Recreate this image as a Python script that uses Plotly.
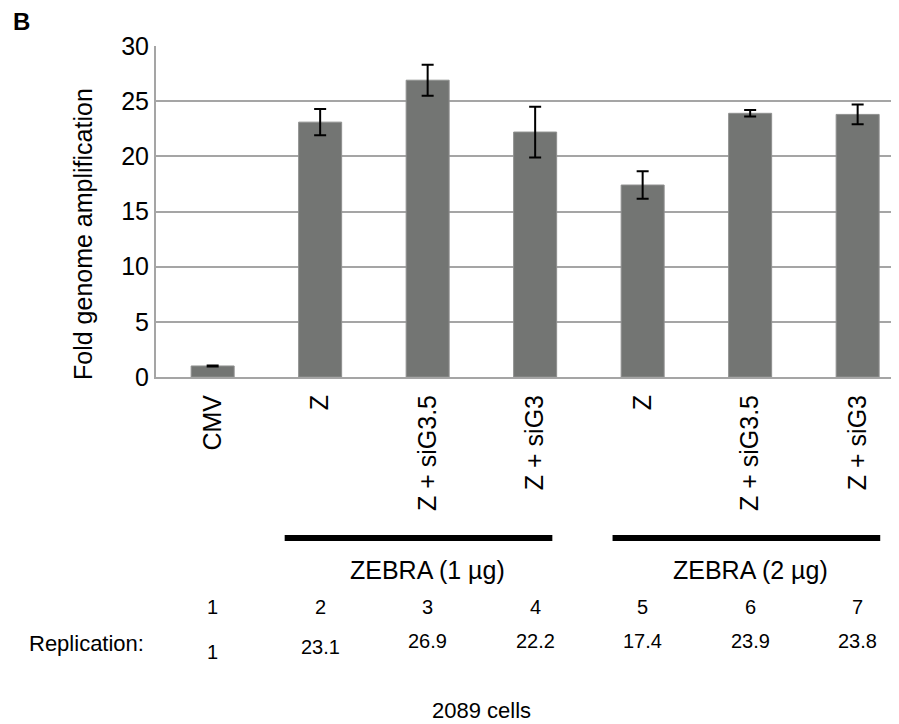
import plotly.graph_objects as go

categories = ["CMV", "Z", "Z + siG3.5", "Z + siG3", "Z", "Z + siG3.5", "Z + siG3"]
values = [1.0, 23.1, 26.9, 22.2, 17.4, 23.9, 23.8]
errors = [0.05, 1.2, 1.4, 2.3, 1.25, 0.3, 0.9]
lane_numbers = ["1", "2", "3", "4", "5", "6", "7"]
replication_labels = ["1", "23.1", "26.9", "22.2", "17.4", "23.9", "23.8"]
group_labels = ["ZEBRA (1 µg)", "ZEBRA (2 µg)"]
group_spans = [(0.67, 3.16), (3.72, 6.21)]
group_centers = [2, 5]
y_ticks = [0, 5, 10, 15, 20, 25, 30]

FONT = "Liberation Sans, Arial, sans-serif"
OFF = 8  # page body margin
W, H = 899 - OFF, 724 - OFF
ML, MR, MT = 156 - OFF, 0, 46 - OFF
MB = H - (377 - OFF)
PH = H - MT - MB
PW = W - ML - MR


def py(pix):
    """screen pixel row -> paper y"""
    return ((377 - OFF) - (pix - OFF)) / PH


def px(pix):
    """screen pixel column -> paper x"""
    return (pix - OFF - ML) / PW


fig = go.Figure()
fig.add_trace(go.Bar(
    x=list(range(len(categories))),
    y=values,
    width=0.4,
    marker=dict(color="#737573", line=dict(color="#8f908f", width=1)),
    error_y=dict(type="data", array=errors, visible=True, color="black",
                 thickness=2, width=6),
))

fig.update_layout(
    width=W, height=H,
    margin=dict(l=ML, r=MR, t=MT, b=MB),
    paper_bgcolor="white", plot_bgcolor="white",
    font=dict(family=FONT, color="black"),
    showlegend=False,
    xaxis=dict(
        range=[-0.527, -0.527 + PW / 107.5],
        tickmode="array",
        tickvals=list(range(len(categories))),
        ticktext=categories,
        tickangle=-90,
        tickfont=dict(size=25, family=FONT, color="black"),
        ticks="", ticklabelstandoff=6,
        showline=True, linecolor="#a5a5a5", linewidth=2,
        showgrid=False, zeroline=False,
    ),
    yaxis=dict(
        range=[0, 30],
        tickvals=y_ticks,
        tickfont=dict(size=25, family=FONT, color="black"),
        ticks="", ticklabelstandoff=0,
        showgrid=True, gridcolor="#a5a5a5", gridwidth=2,
        showline=True, linecolor="#a5a5a5", linewidth=2,
        zeroline=False,
    ),
)

# y-axis title (placed as in the reference, lower than plot centre)
fig.add_annotation(xref="paper", yref="paper", x=px(83), y=py(234),
                   xanchor="center", yanchor="middle", textangle=-90,
                   text="Fold genome amplification", showarrow=False,
                   font=dict(size=25, family=FONT, color="black"))

for (x0, x1), xc, lab in zip(group_spans, group_centers, group_labels):
    fig.add_shape(type="line", xref="x", yref="paper",
                  x0=x0, x1=x1, y0=py(538), y1=py(538),
                  line=dict(color="black", width=6))
    fig.add_annotation(xref="x", yref="paper", x=xc, y=py(570),
                       xanchor="center", yanchor="middle",
                       text=lab, showarrow=False,
                       font=dict(size=25, family=FONT, color="black"))

for i, (n, r) in enumerate(zip(lane_numbers, replication_labels)):
    fig.add_annotation(xref="x", yref="paper", x=i, y=py(607), text=n,
                       xanchor="center", yanchor="middle",
                       showarrow=False, font=dict(size=20, family=FONT, color="black"))
    ry = 652 if i == 0 else (647 if i == 1 else 641)
    fig.add_annotation(xref="x", yref="paper", x=i, y=py(ry), text=r,
                       xanchor="center", yanchor="middle",
                       showarrow=False, font=dict(size=20, family=FONT, color="black"))

fig.add_annotation(xref="paper", yref="paper", x=px(146), y=py(643),
                   xanchor="right", yanchor="middle", text="Replication:", showarrow=False,
                   font=dict(size=22, family=FONT, color="black"))
fig.add_annotation(xref="x", yref="paper", x=2.5, y=py(710),
                   xanchor="center", yanchor="middle",
                   text="2089 cells", showarrow=False,
                   font=dict(size=22, family=FONT, color="black"))
fig.add_annotation(xref="paper", yref="paper", x=px(11), y=py(21),
                   xanchor="left", yanchor="middle", text="<b>B</b>", showarrow=False,
                   font=dict(size=24, family=FONT, color="black"))

fig.write_html("out.html")
